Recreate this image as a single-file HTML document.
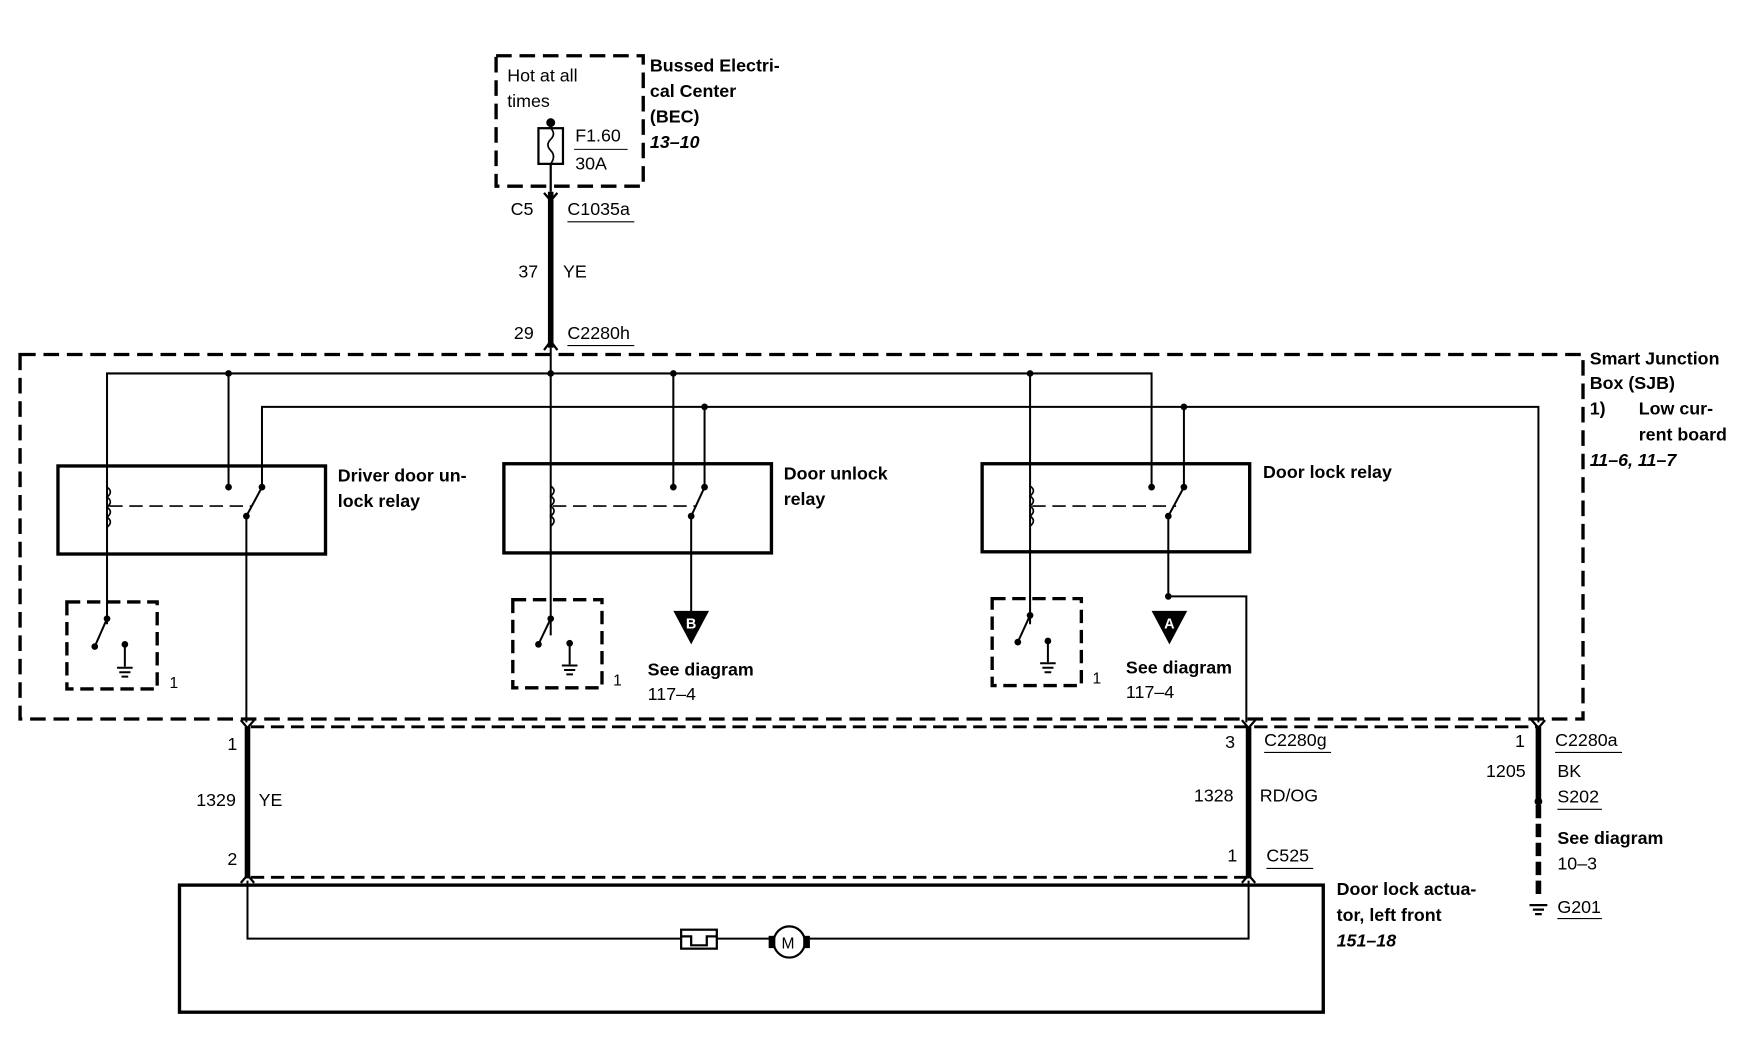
<!DOCTYPE html>
<html><head><meta charset="utf-8"><style>
html,body{margin:0;padding:0;background:#fff;}
svg{display:block;}
text{font-family:"Liberation Sans",Arial,sans-serif;font-size:16px;fill:#000;}
.b{font-weight:bold;}
.i{font-style:italic;font-weight:bold;}
</style></head><body>
<svg width="1748" height="1056" viewBox="0 0 1568 947.3" preserveAspectRatio="none" xmlns="http://www.w3.org/2000/svg">
<g fill="none" stroke="#000">
<rect x="445" y="50" width="132" height="117" stroke-width="3" stroke-dasharray="14,7"/>
<rect x="483" y="115" width="22" height="32" stroke-width="2"/>
<path d="M494 115 q5 5 0 10 q-5 5 0 10 q5 5 0 12" stroke-width="1.5"/>
<line x1="494" y1="110" x2="494" y2="115" stroke-width="2"/>
<line x1="515" y1="134" x2="563" y2="134" stroke-width="1"/>
<line x1="494" y1="147" x2="494" y2="172" stroke-width="2"/>
<line x1="494" y1="172" x2="494" y2="312" stroke-width="5"/>
<path d="M488 173 l6 7 l6 -7" stroke-width="2"/>
<path d="M488 314 l6 -8 l6 8" stroke-width="2"/>
<line x1="509" y1="199" x2="569" y2="199" stroke-width="1"/>
<line x1="509" y1="310" x2="569" y2="310" stroke-width="1"/>
<rect x="18" y="318" width="1402" height="327" stroke-width="3" stroke-dasharray="14,7"/>
<polyline points="96,560 96,335 1033,335 1033,437" stroke-width="1.8"/>
<polyline points="235,437 235,365 1380,365 1380,648" stroke-width="1.8"/>
<line x1="205" y1="335" x2="205" y2="437" stroke-width="1.8"/>
<line x1="494" y1="312" x2="494" y2="570" stroke-width="1.8"/>
<line x1="604" y1="335" x2="604" y2="437" stroke-width="1.8"/>
<line x1="924" y1="335" x2="924" y2="560" stroke-width="1.8"/>
<line x1="632" y1="365" x2="632" y2="437" stroke-width="1.8"/>
<line x1="1062" y1="365" x2="1062" y2="437" stroke-width="1.8"/>
<rect x="52" y="418" width="240" height="79" stroke-width="3"/>
<rect x="452" y="416" width="240" height="80" stroke-width="3"/>
<rect x="881" y="416" width="240" height="79" stroke-width="3"/>
<g stroke-width="1.5">
<path d="M96 437 q6 4 0 9 q6 4 0 9 q6 4 0 9 q6 4 0 9"/>
<path d="M494 436 q6 4 0 9 q6 4 0 9 q6 4 0 9 q6 4 0 9"/>
<path d="M924 436 q6 4 0 9 q6 4 0 9 q6 4 0 9 q6 4 0 9"/>
</g>
<g stroke-width="1.5" stroke-dasharray="12,6">
<line x1="98" y1="454" x2="225" y2="454"/>
<line x1="496" y1="454" x2="625" y2="454"/>
<line x1="926" y1="454" x2="1055" y2="454"/>
</g>
<g stroke-width="1.8">
<line x1="235" y1="437" x2="221" y2="463"/>
<line x1="632" y1="437" x2="620" y2="463"/>
<line x1="1062" y1="437" x2="1048" y2="463"/>
<line x1="221" y1="463" x2="221" y2="648"/>
<line x1="620" y1="463" x2="620" y2="550"/>
<polyline points="1048,463 1048,535 1118,535 1118,648"/>
</g>
<g stroke-width="3" stroke-dasharray="12,6">
<rect x="60" y="540" width="81" height="78"/>
<rect x="460" y="538" width="80" height="79"/>
<rect x="890" y="537" width="80" height="78"/>
</g>
<g stroke-width="1.8">
<line x1="96" y1="555" x2="85" y2="580"/>
<line x1="112" y1="578" x2="112" y2="598"/>
<line x1="494" y1="555" x2="483" y2="578"/>
<line x1="511" y1="577" x2="511" y2="596"/>
<line x1="924" y1="552" x2="913" y2="576"/>
<line x1="940" y1="575" x2="940" y2="594"/>
<path d="M105 599 h14 M107 603 h10 M109 607 h6"/>
<path d="M504 597 h14 M506 601 h10 M508 605 h6"/>
<path d="M933 595 h14 M935 599 h10 M937 603 h6"/>
</g>
<line x1="225" y1="652" x2="1380" y2="652" stroke-width="2.5" stroke-dasharray="12,6"/>
<line x1="225" y1="787" x2="1120" y2="787" stroke-width="2.5" stroke-dasharray="12,6"/>
<line x1="222" y1="652" x2="222" y2="788" stroke-width="5"/>
<line x1="1120" y1="652" x2="1120" y2="788" stroke-width="5"/>
<line x1="1380" y1="652" x2="1380" y2="719" stroke-width="5"/>
<line x1="1380" y1="722" x2="1380" y2="806" stroke-width="5" stroke-dasharray="12,5"/>
<g stroke-width="2">
<path d="M216 646 l6 7 l6 -7"/><path d="M216 792 l6 -7 l6 7"/>
<path d="M1114 646 l6 7 l6 -7"/><path d="M1114 792 l6 -7 l6 7"/>
<path d="M1374 646 l6 7 l6 -7"/>
<path d="M1372 812 h16 M1375 816 h10 M1377 820 h6"/>
</g>
<g stroke-width="1">
<line x1="1395" y1="675" x2="1455" y2="675"/>
<line x1="1134" y1="675" x2="1194" y2="675"/>
<line x1="1136" y1="779" x2="1178" y2="779"/>
<line x1="1397" y1="726" x2="1437" y2="726"/>
<line x1="1397" y1="824" x2="1437" y2="824"/>
</g>
<rect x="161" y="794" width="1026" height="114" stroke-width="3"/>
<polyline points="222,790 222,842 610,842" stroke-width="1.8"/>
<polyline points="643,842 690,842" stroke-width="1.8"/>
<polyline points="726,842 1120,842 1120,790" stroke-width="1.8"/>
<rect x="611" y="834" width="32" height="17" stroke-width="2"/>
<polyline points="611,840 620,840 620,848 634,848 634,840 643,840" stroke-width="2"/>
<circle cx="708" cy="845" r="14" stroke-width="2"/>
<rect x="690" y="840" width="5" height="10" fill="#000"/>
<rect x="721" y="840" width="5" height="10" fill="#000"/>
</g>
<g fill="#000">
<circle cx="494" cy="110" r="4"/>
<circle cx="205" cy="335" r="3"/><circle cx="494" cy="335" r="3"/><circle cx="604" cy="335" r="3"/><circle cx="924" cy="335" r="3"/>
<circle cx="632" cy="365" r="3"/><circle cx="1062" cy="365" r="3"/>
<circle cx="205" cy="437" r="3"/><circle cx="235" cy="437" r="3"/><circle cx="221" cy="463" r="3"/>
<circle cx="604" cy="437" r="3"/><circle cx="632" cy="437" r="3"/><circle cx="620" cy="463" r="3"/>
<circle cx="1033" cy="437" r="3"/><circle cx="1062" cy="437" r="3"/><circle cx="1048" cy="463" r="3"/>
<circle cx="1048" cy="535" r="3"/>
<circle cx="96" cy="555" r="3"/><circle cx="85" cy="580" r="3"/><circle cx="112" cy="578" r="3"/>
<circle cx="494" cy="555" r="3"/><circle cx="483" cy="578" r="3"/><circle cx="511" cy="577" r="3"/>
<circle cx="924" cy="552" r="3"/><circle cx="913" cy="576" r="3"/><circle cx="940" cy="575" r="3"/>
<circle cx="1380" cy="719" r="3.5"/>
<polygon points="604,548 636,548 620,578"/>
<polygon points="1033,548 1065,548 1049,578"/>
</g>
<text x="620" y="564" text-anchor="middle" style="fill:#fff;font-size:13px;font-weight:bold">B</text>
<text x="1049" y="564" text-anchor="middle" style="fill:#fff;font-size:13px;font-weight:bold">A</text>
<text x="455" y="73">Hot at all</text>
<text x="455" y="96">times</text>
<text x="516" y="127">F1.60</text>
<text x="516" y="152">30A</text>
<text class="b" x="583" y="64">Bussed Electri-</text>
<text class="b" x="583" y="87">cal Center</text>
<text class="b" x="583" y="110">(BEC)</text>
<text class="i" x="583" y="133">13–10</text>
<text x="458" y="193">C5</text>
<text x="509" y="193">C1035a</text>
<text x="465" y="249">37</text>
<text x="505" y="249">YE</text>
<text x="461" y="304">29</text>
<text x="509" y="304">C2280h</text>
<text class="b" x="1426" y="327">Smart Junction</text>
<text class="b" x="1426" y="349">Box (SJB)</text>
<text class="b" x="1426" y="372">1)</text>
<text class="b" x="1470" y="372">Low cur-</text>
<text class="b" x="1470" y="395">rent board</text>
<text class="i" x="1426" y="418">11–6, 11–7</text>
<text class="b" x="303" y="432">Driver door un-</text>
<text class="b" x="303" y="455">lock relay</text>
<text class="b" x="703" y="430">Door unlock</text>
<text class="b" x="703" y="453">relay</text>
<text class="b" x="1133" y="429">Door lock relay</text>
<text x="152" y="617" style="font-size:14px">1</text>
<text x="550" y="615" style="font-size:14px">1</text>
<text x="980" y="613" style="font-size:14px">1</text>
<text class="b" x="581" y="606">See diagram</text>
<text x="581" y="628">117–4</text>
<text class="b" x="1010" y="604">See diagram</text>
<text x="1010" y="626">117–4</text>
<text x="204" y="673">1</text>
<text x="176" y="723">1329</text>
<text x="232" y="723">YE</text>
<text x="204" y="776">2</text>
<text x="1099" y="671">3</text>
<text x="1134" y="669">C2280g</text>
<text x="1071" y="719">1328</text>
<text x="1130" y="719">RD/OG</text>
<text x="1101" y="773">1</text>
<text x="1136" y="773">C525</text>
<text x="1359" y="670">1</text>
<text x="1395" y="669">C2280a</text>
<text x="1333" y="697">1205</text>
<text x="1397" y="697">BK</text>
<text x="1397" y="720">S202</text>
<text class="b" x="1397" y="757">See diagram</text>
<text x="1397" y="780">10–3</text>
<text x="1397" y="819">G201</text>
<text x="701" y="851" style="font-size:14px">M</text>
<text class="b" x="1199" y="803">Door lock actua-</text>
<text class="b" x="1199" y="826">tor, left front</text>
<text class="i" x="1199" y="849">151–18</text>
</svg>
</body></html>
